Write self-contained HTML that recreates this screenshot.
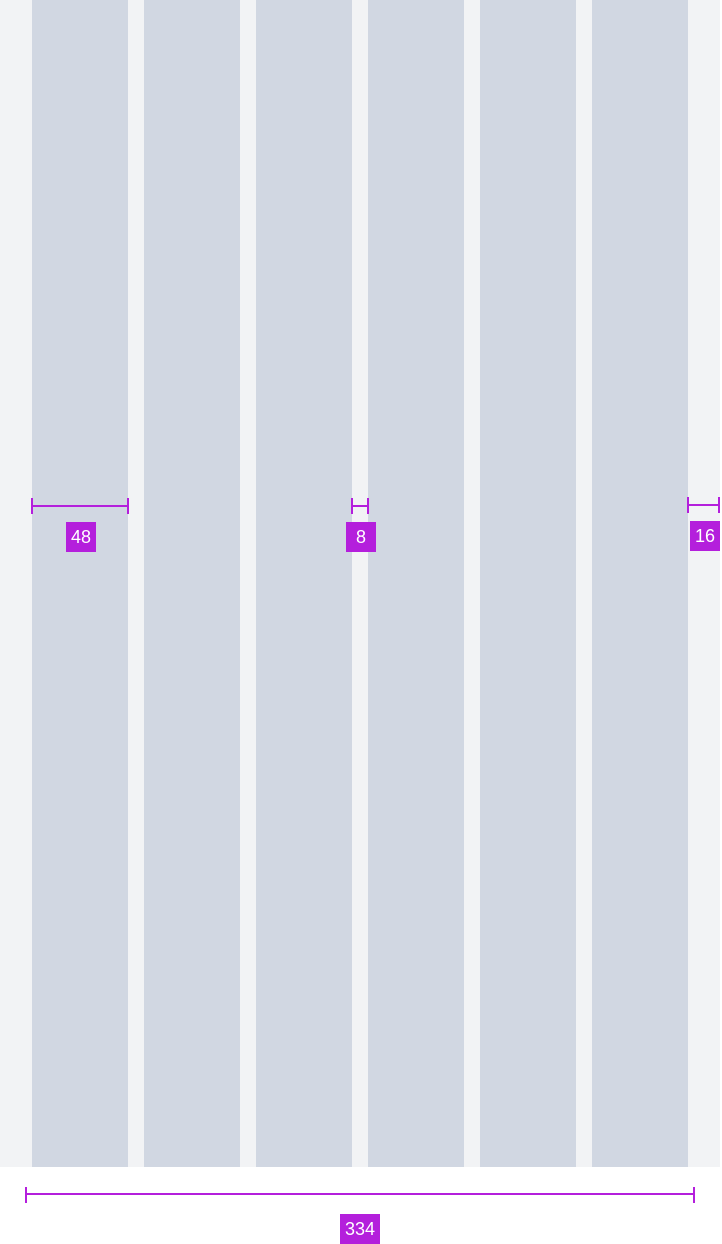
<!DOCTYPE html>
<html><head><meta charset="utf-8"><style>
body{margin:0;width:722px;height:1244px;background:#fff;position:relative;overflow:hidden;font-family:"Liberation Sans",sans-serif}
.a{position:absolute}
.col{position:absolute;top:0;width:96px;height:1167px;background:#d1d7e2}
.ln{position:absolute;background:#b41fdc}
.lb{position:absolute;background:#b41fdc;color:#fff;font-size:18px;height:30px;line-height:30px;text-align:center}
</style></head><body>
<div class="a" style="left:0;top:0;width:720px;height:1167px;background:#f2f3f5"></div>
<div class="col" style="left:32px"></div>
<div class="col" style="left:144px"></div>
<div class="col" style="left:256px"></div>
<div class="col" style="left:368px"></div>
<div class="col" style="left:480px"></div>
<div class="col" style="left:592px"></div>

<div>
<div class="ln" style="left:32px;top:505px;width:96px;height:2px"></div>
<div class="ln" style="left:31px;top:498px;width:2px;height:16px"></div>
<div class="ln" style="left:127px;top:498px;width:2px;height:16px"></div>
<div class="lb" style="left:66px;top:522px;width:30px">48</div>
</div>

<div>
<div class="ln" style="left:352px;top:505px;width:16px;height:2px"></div>
<div class="ln" style="left:351px;top:498px;width:2px;height:16px"></div>
<div class="ln" style="left:367px;top:498px;width:2px;height:16px"></div>
<div class="lb" style="left:346px;top:522px;width:30px">8</div>
</div>

<div>
<div class="ln" style="left:688px;top:504px;width:32px;height:2px"></div>
<div class="ln" style="left:687px;top:497px;width:2px;height:16px"></div>
<div class="ln" style="left:718px;top:497px;width:2px;height:16px"></div>
<div class="lb" style="left:690px;top:521px;width:30px">16</div>
</div>

<div>
<div class="ln" style="left:26px;top:1193px;width:668px;height:2px"></div>
<div class="ln" style="left:25px;top:1187px;width:2px;height:16px"></div>
<div class="ln" style="left:693px;top:1187px;width:2px;height:16px"></div>
<div class="lb" style="left:340px;top:1214px;width:40px">334</div>
</div>
</body></html>
